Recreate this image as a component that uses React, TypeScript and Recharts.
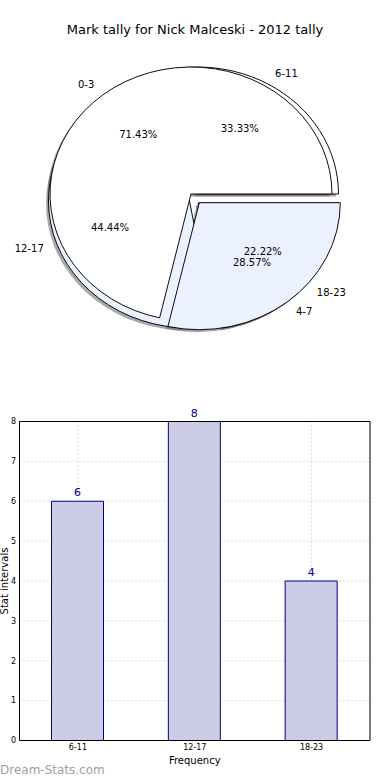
import React from "react"
import {
  Bar,
  BarChart,
  CartesianGrid,
  Cell,
  LabelList,
  Pie,
  PieChart,
  XAxis,
  YAxis,
} from "recharts"

// pie 1 (mark intervals)
const marksLabels = ["0-3", "4-7"]
const marksValues = [5, 2]

// pie 2 / bars (stat intervals)
const statLabels = ["6-11", "12-17", "18-23"]
const statValues = [6, 8, 4]

const yTicks = [0, 1, 2, 3, 4, 5, 6, 7, 8]

const FONT = "DejaVu Sans"
const RAD = Math.PI / 180
const R = 141
const SY = 127 / 141 // matplotlib pie is drawn squashed
const CX = 191
const CY = 194

const LIGHT = "#ebf1fe"

type Layer = {
  labels: string[]
  values: number[]
  fills: string[]
  offsets: number[][]
}

const marksLayer: Layer = {
  labels: marksLabels,
  values: marksValues,
  fills: ["#ffffff", LIGHT],
  offsets: [
    [0, 0],
    [8.3, 8.7],
  ],
}

const statLayer: Layer = {
  labels: statLabels,
  values: statValues,
  fills: ["#ffffff", LIGHT, LIGHT],
  offsets: [
    [6.5, 0],
    [-1.5, 7],
    [7, 9],
  ],
}

const toData = (l: Layer) => l.labels.map((name, i) => ({ name, value: l.values[i] }))

function sliceLabel(i: number, ox: number, oy: number) {
  return (props: any) => {
    if (props.index !== i) return null
    const cx = props.cx ?? CX + ox
    const cy = props.cy ?? (CY + oy) / SY
    const a = -props.midAngle * RAD
    const lx = cx + 1.1 * R * Math.cos(a)
    const ly = cy + 1.1 * R * Math.sin(a)
    const px = cx + 0.6 * R * Math.cos(a)
    const py = cy + 0.6 * R * Math.sin(a)
    const t = (x: number, y: number) => `translate(${x},${y}) scale(1,${1 / SY})`
    return (
      <g fontFamily={FONT} fontSize={10} fill="#000">
        <text
          transform={t(lx, ly)}
          textAnchor={lx > cx ? "start" : "end"}
          dominantBaseline="central"
        >
          {props.name}
        </text>
        <text transform={t(px, py)} textAnchor="middle" dominantBaseline="central">
          {(props.percent * 100).toFixed(2)}%
        </text>
      </g>
    )
  }
}

function slices(l: Layer, mode: "shadow" | "shape" | "label", prefix: string) {
  const data = toData(l)
  return data.map((_, i) => {
    let [ox, oy] = l.offsets[i]
    if (mode === "shadow") {
      ox -= 2.5
      oy += 2.5
    }
    return (
      <Pie
        key={`${prefix}-${mode}-${i}`}
        data={data}
        dataKey="value"
        nameKey="name"
        cx={CX + ox}
        cy={(CY + oy) / SY}
        outerRadius={R}
        startAngle={0}
        endAngle={360}
        isAnimationActive={false}
        labelLine={false}
        label={mode === "label" ? sliceLabel(i, ox, oy) : false}
      >
        {data.map((d, j) => {
          const on = j === i && mode !== "label"
          return (
            <Cell
              key={`c-${j}`}
              fill={on ? (mode === "shadow" ? "#707070" : l.fills[j]) : "none"}
              fillOpacity={mode === "shadow" ? 0.6 : 1}
              stroke={on && mode === "shape" ? "#000" : "none"}
              strokeWidth={1}
            />
          )
        })}
      </Pie>
    )
  })
}

const barData = statLabels.map((name, i) => ({ name, value: statValues[i] }))

export default function App() {
  return (
    <div
      style={{
        position: "absolute",
        left: 0,
        top: 0,
        width: 390,
        height: 780,
        background: "#fff",
        fontFamily: FONT,
        overflow: "hidden",
      }}
    >
      <div
        style={{
          position: "absolute",
          top: 22,
          left: 0,
          width: 390,
          textAlign: "center",
          fontSize: 13,
          lineHeight: "16px",
          color: "#000",
        }}
      >
        Mark tally for Nick Malceski - 2012 tally
      </div>

      <div
        style={{
          position: "absolute",
          left: 0,
          top: 0,
          width: 390,
          height: 400,
          transform: `scaleY(${SY})`,
          transformOrigin: "0 0",
        }}
      >
        <PieChart width={390} height={400} margin={{ top: 0, right: 0, bottom: 0, left: 0 }}>
          {slices(statLayer, "shadow", "s")}
          {slices(marksLayer, "shadow", "m")}
          {slices(statLayer, "shape", "s")}
          {slices(marksLayer, "shape", "m")}
          {slices(statLayer, "label", "s")}
          {slices(marksLayer, "label", "m")}
        </PieChart>
      </div>

      <div style={{ position: "absolute", left: 0, top: 400 }}>
        <BarChart
          width={390}
          height={380}
          data={barData}
          margin={{ top: 20.5, right: 19, bottom: 9.5, left: 0 }}
        >
          <CartesianGrid stroke="#b8b8b8" strokeDasharray="1 3" />
          <XAxis
            dataKey="name"
            height={30}
            tickSize={0}
            tickMargin={4}
            tickLine={false}
            axisLine={{ stroke: "#000" }}
            tick={{ fontSize: 8, fill: "#000", fontFamily: FONT }}
            label={(p: any) => {
              const vb = p.viewBox
              return (
                <text
                  x={vb.x + vb.width / 2}
                  y={vb.y + 19.5}
                  textAnchor="middle"
                  dominantBaseline="central"
                  fontSize={10}
                  fontFamily={FONT}
                  fill="#000"
                >
                  Frequency
                </text>
              )
            }}
          />
          <XAxis
            xAxisId="top"
            dataKey="name"
            orientation="top"
            height={1}
            tick={false}
            tickLine={false}
            axisLine={{ stroke: "#000" }}
          />
          <YAxis
            width={19.5}
            domain={[0, 8]}
            ticks={yTicks}
            interval={0}
            tickSize={0}
            tickMargin={3.5}
            tickLine={false}
            axisLine={{ stroke: "#000" }}
            tick={{ fontSize: 8, fill: "#000", fontFamily: FONT }}
            label={(p: any) => {
              const vb = p.viewBox
              const x = vb.x + 4.5
              const y = vb.y + vb.height / 2
              return (
                <text
                  x={x}
                  y={y}
                  transform={`rotate(-90, ${x}, ${y})`}
                  textAnchor="middle"
                  dominantBaseline="central"
                  fontSize={10}
                  fontFamily={FONT}
                  fill="#000"
                >
                  Stat intervals
                </text>
              )
            }}
          />
          <YAxis
            yAxisId="right"
            orientation="right"
            width={1}
            domain={[0, 8]}
            tick={false}
            tickLine={false}
            axisLine={{ stroke: "#000" }}
          />
          <Bar
            dataKey="value"
            barSize={52}
            fill="#ccccE6"
            stroke="#000080"
            strokeWidth={1}
            isAnimationActive={false}
          >
            <LabelList
              dataKey="value"
              position="top"
              offset={5}
              fill="#00008b"
              fontSize={11}
              fontFamily={FONT}
            />
          </Bar>
        </BarChart>
      </div>

      <div
        style={{
          position: "absolute",
          left: 0,
          top: 762,
          fontSize: 12,
          lineHeight: "16px",
          color: "#a0a0a0",
        }}
      >
        Dream-Stats.com
      </div>
    </div>
  )
}
